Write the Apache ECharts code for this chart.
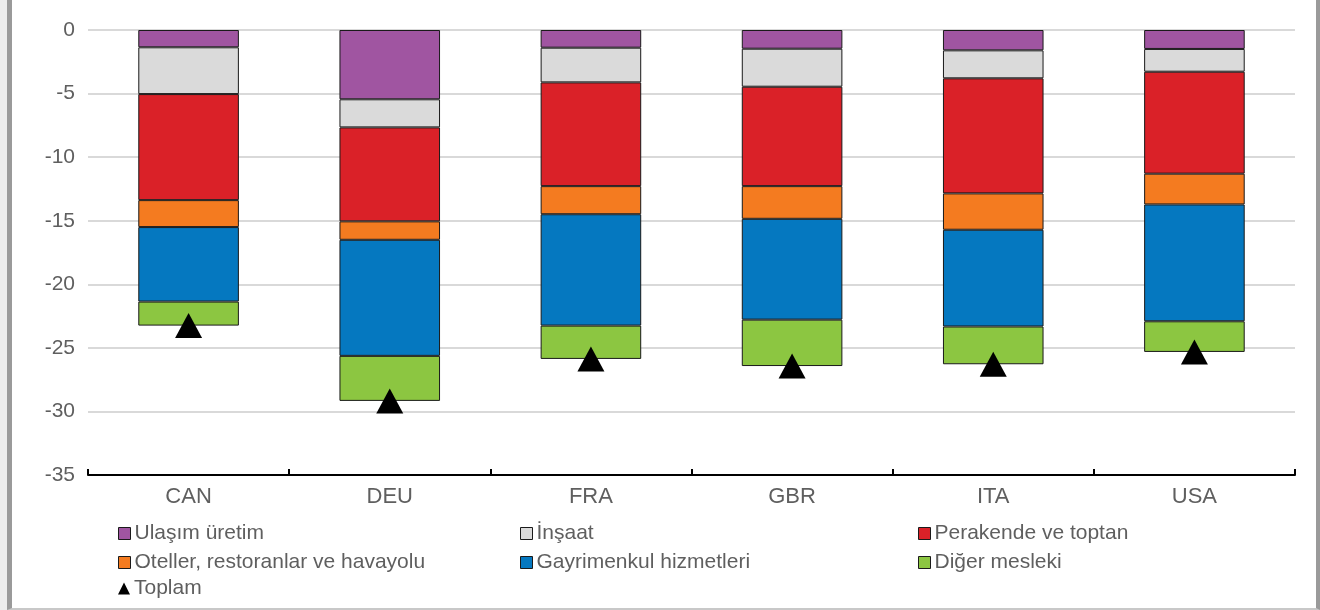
<!DOCTYPE html>
<html>
<head>
<meta charset="utf-8">
<script src="https://cdn.jsdelivr.net/npm/echarts@6/dist/echarts.min.js"></script>
<style>
html,body{margin:0;padding:0;background:#ececec;width:1320px;height:610px;overflow:hidden;}
#frame{position:absolute;left:7px;top:0;width:1313px;height:610px;box-sizing:border-box;background:#fff;border-left:5px solid #9a9a9a;border-right:4px solid #9a9a9a;border-bottom:2px solid #c8c8c8;}
#chart{position:absolute;left:0;top:0;width:1320px;height:610px;}
</style>
</head>
<body>
<div id="frame"></div>
<div id="chart"></div>
<script>
const categories = ['CAN', 'DEU', 'FRA', 'GBR', 'ITA', 'USA'];
const ulasimUretim = [-1.36, -5.45, -1.39, -1.47, -1.60, -1.49];
const insaat = [-3.68, -2.21, -2.73, -2.99, -2.20, -1.79];
const perakendeToptan = [-8.34, -7.39, -8.16, -7.82, -9.05, -8.02];
const otellerRestoranlar = [-2.12, -1.45, -2.21, -2.57, -2.86, -2.42];
const gayrimenkul = [-5.86, -9.13, -8.76, -7.93, -7.61, -9.19];
const digerMesleki = [-1.89, -3.54, -2.62, -3.65, -2.97, -2.41];
const toplam = [-23.25, -29.17, -25.87, -26.43, -26.29, -25.32];
const yTicks = [0, -5, -10, -15, -20, -25, -30, -35];

const names = ['Ulaşım üretim', 'İnşaat', 'Perakende ve toptan', 'Oteller, restoranlar ve havayolu', 'Gayrimenkul hizmetleri', 'Diğer mesleki', 'Toplam'];
const colors = ['#A055A1', '#DADADA', '#DA2128', '#F47B20', '#0578C0', '#8CC641'];
const barData = [ulasimUretim, insaat, perakendeToptan, otellerRestoranlar, gayrimenkul, digerMesleki];

const series = barData.map((d, i) => ({
  name: names[i],
  type: 'bar',
  stack: 'total',
  barWidth: '50%',
  data: d,
  itemStyle: { color: colors[i], borderColor: '#1a1a1a', borderWidth: 1 },
  emphasis: { disabled: true }
}));
series.push({
  name: 'Toplam',
  type: 'scatter',
  data: toplam,
  symbol: 'triangle',
  symbolSize: [27, 25],
  itemStyle: { color: '#000', opacity: 1 },
  emphasis: { disabled: true },
  z: 10
});

const legendPos = [
  [118, 535], [520, 535], [918, 535],
  [118, 564], [520, 564], [918, 564],
  [118, 590]
];
const legends = names.map((n, i) => ({
  data: [n],
  left: legendPos[i][0],
  top: legendPos[i][1] - 12,
  orient: 'horizontal',
  itemWidth: 12,
  itemHeight: 12,
  itemGap: 0,
  padding: 0,
  selectedMode: false,
  textStyle: { fontFamily: 'Liberation Sans, Arial, sans-serif', fontSize: 21, color: '#5f5f5f', padding: [0, 0, 0, -1] },
  itemStyle: i < 6 ? { borderColor: '#1a1a1a', borderWidth: 1 } : { opacity: 1 },
  icon: i < 6 ? 'rect' : 'triangle'
}));

const chart = echarts.init(document.getElementById('chart'));
chart.setOption({
  backgroundColor: 'transparent',
  animation: false,
  legend: legends,
  grid: { left: 88, right: 25, top: 30, bottom: 135, containLabel: false },
  xAxis: {
    type: 'category',
    data: categories,
    position: 'bottom',
    axisLine: { onZero: false, lineStyle: { color: '#000', width: 2 } },
    axisTick: { show: true, inside: true, length: 6, lineStyle: { color: '#000', width: 2 } },
    axisLabel: { fontFamily: 'Liberation Sans, Arial, sans-serif', fontSize: 22, color: '#5f5f5f', margin: 11 }
  },
  yAxis: {
    type: 'value',
    min: -35,
    max: 0,
    interval: 5,
    axisLine: { show: false },
    axisTick: { show: false },
    splitLine: { lineStyle: { color: '#d9d9d9', width: 2 } },
    axisLabel: {
      fontFamily: 'Liberation Sans, Arial, sans-serif', fontSize: 21, color: '#5f5f5f', margin: 13,
      formatter: v => (yTicks.indexOf(v) >= 0 ? String(v) : '')
    }
  },
  series: series
});
</script>
</body>
</html>
